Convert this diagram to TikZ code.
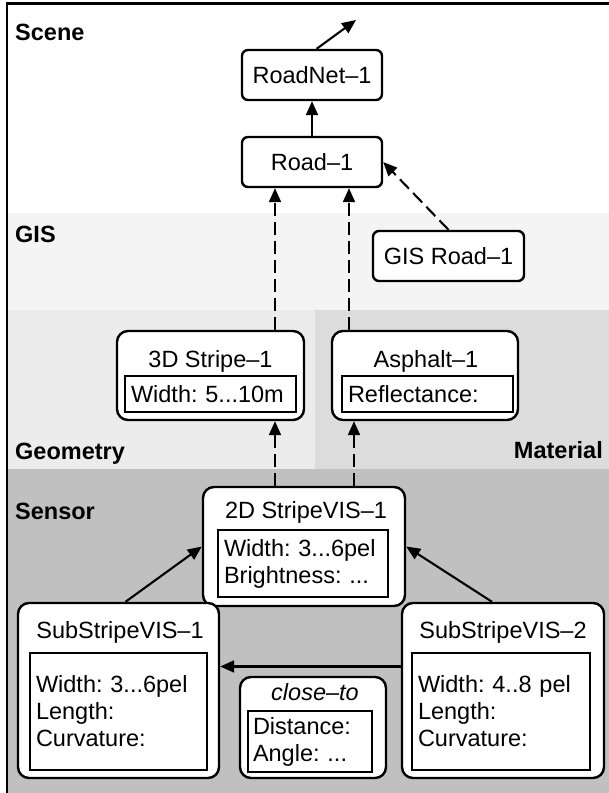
\documentclass[tikz,border=0pt]{standalone}
\usepackage{fontspec}
\setmainfont{Liberation Sans}
\usepackage{tikz}
\usetikzlibrary{arrows.meta,calc,positioning}

\definecolor{gisgray}{HTML}{F4F4F4}
\definecolor{geogray}{HTML}{ECECEC}
\definecolor{matgray}{HTML}{DCDCDC}
\definecolor{sengray}{HTML}{C0C0C0}

\tikzset{
  big/.style={font=\fontsize{23.5}{27}\selectfont\frenchspacing},
  layer/.style={font=\fontsize{23.5}{27}\selectfont\bfseries, inner sep=0pt},
  obj/.style={draw, line width=2.4pt, fill=white, rounded corners=6pt, big, inner sep=0pt},
  bigobj/.style={obj, rounded corners=11pt},
  attr/.style={draw, line width=2.4pt, fill=white, big, align=left, inner xsep=6pt, inner ysep=0pt},
  ttl/.style={big, inner sep=0pt, anchor=base},
  arr/.style={line width=2.1pt, -{Triangle[length=14pt,width=12pt]}},
  dsh/.style={arr, dash pattern=on 13pt off 6pt},
}

\begin{document}
\begin{tikzpicture}[x=1pt,y=-1pt]
\useasboundingbox (0,0) rectangle (609,793);
% layers
\fill[gisgray] (7,213) rectangle (609,310);
\fill[geogray] (7,310) rectangle (315,469);
\fill[matgray] (315,310) rectangle (609,469);
\fill[sengray] (7,469) rectangle (609,793);
\draw[line width=2.5pt] (609,3.5) -- (7,3.5) -- (7,793);
\node[layer, anchor=base west] (lscene) at (15,40) {Scene};
\node[layer, anchor=base west] (lgis) at (15,242) {GIS};
\node[layer, anchor=base west] (lgeo) at (15,459) {Geometry};
\node[layer, anchor=base east] (lmat) at (603,458) {Material};
\node[layer, anchor=base west] (lsen) at (15,519) {Sensor};

% scene and gis
\foreach \nm/\x/\y/\w/\t in {rn/312/75/140/RoadNet–1, rd/312/162/140/Road–1, gr/448.5/256/151/GIS Road–1}
    \node[obj, minimum width=\w pt, minimum height=50pt] (\nm) at (\x,\y) {\t};

% geometry and material
\node[bigobj, minimum width=187pt, minimum height=89pt] (s3d) at (210.5,375.5) {};
\node[ttl] (s3dt) at (210.5,367) {3D Stripe–1};
\node[attr, text width=159pt, minimum height=36pt] (s3da) at (210.5,394) {Width: 5...10m};
\node[bigobj, minimum width=186pt, minimum height=89pt] (asp) at (425,375.5) {};
\node[ttl] (aspt) at (426,367) {Asphalt–1};
\node[attr, text width=159pt, minimum height=36pt] (aspa) at (427.5,394) {Reflectance:};

% sensor
\node[bigobj, minimum width=202pt, minimum height=119pt] (sv) at (304,546.5) {};
\node[ttl] (svt) at (306,518) {2D StripeVIS–1};
\node[attr, text width=158pt, minimum height=67pt] (sva) at (303,563.5) {Width: 3...6pel\\Brightness: ...};
\node[bigobj, minimum width=201pt, minimum height=175pt] (ss1) at (118.5,690.5) {};
\node[ttl] (ss1t) at (120,638) {SubStripeVIS–1};
\node[attr, text width=165pt, minimum height=117pt] (ss1a) at (118.5,711.5) {Width: 3...6pel\\Length:\\Curvature:};
\node[bigobj, minimum width=202pt, minimum height=175pt] (ss2) at (503,690.5) {};
\node[ttl] (ss2t) at (503,638) {SubStripeVIS–2};
\node[attr, text width=166pt, minimum height=117pt] (ss2a) at (501,711.5) {Width: 4..8 pel\\Length:\\Curvature:};
\node[bigobj, minimum width=146pt, minimum height=101pt] (ct) at (313,727.5) {};
\node[ttl] (ctt) at (315,700) {\itshape close–to};
\node[attr, inner xsep=5pt, text width=114pt, minimum height=61pt] (cta) at (310,741.5) {Distance:\\Angle: ...};

% connectors
\coordinate (rnout) at (356,20);
\coordinate (lx) at (275,0);
\coordinate (rx) at (349,0);
\coordinate (rxs) at (354,0);
\draw[arr] (rn.80) -- (rnout);
\draw[arr] (rd) -- (rn);
\draw[dsh] (gr.north) -- (rd.east);
\draw[dsh] (s3d.north -| lx) -- (rd.south -| lx);
\draw[dsh] (asp.north -| rx) -- (rd.south -| rx);
\draw[dsh] (sv.north -| lx) -- (s3d.south -| lx);
\draw[dsh] (sv.north -| rxs) -- (asp.south -| rxs);
\draw[arr] ([xshift=7pt]ss1.north) -- (sv.west);
\draw[arr] ([xshift=-11pt]ss2.north) -- (sv.east);
\draw[arr] ([yshift=24pt]ss2.west) -- ([yshift=24pt]ss1.east);
\end{tikzpicture}
\end{document}
